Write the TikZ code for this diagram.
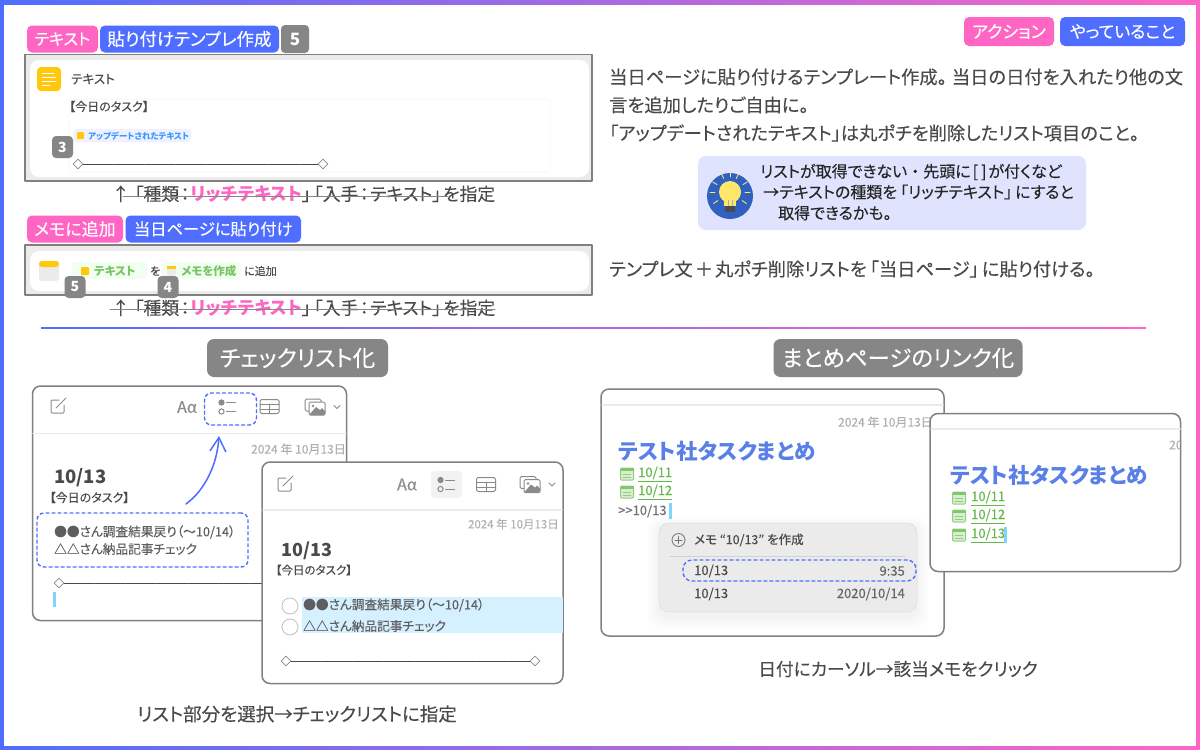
\documentclass[tikz,border=0pt]{standalone}
\usepackage{fontspec}
\setmainfont[RawFeature={+palt},FakeBold=0.2,BoldFeatures={FakeBold=0}]{Noto Sans CJK JP}
\usetikzlibrary{arrows.meta,shapes.geometric}
\definecolor{tagpink}{HTML}{FF66C4}
\definecolor{tagblue}{HTML}{4F6EFF}
\definecolor{badgegray}{HTML}{868686}
\definecolor{inkgray}{HTML}{4A4A4A}
\definecolor{itemgray}{HTML}{5E5E5E}
\definecolor{frameline}{HTML}{808080}
\definecolor{sepline}{HTML}{EBEBEB}
\definecolor{dategray}{HTML}{B0B0B0}
\definecolor{iconcol}{HTML}{8A8A8A}
\definecolor{titleblue}{HTML}{5A80E8}
\definecolor{linkgreen}{HTML}{63B84A}
\definecolor{selblue}{HTML}{D5F0FF}
\definecolor{cursorblue}{HTML}{7FD4FF}
\definecolor{appyellow}{HTML}{FFC80A}
\definecolor{tipfill}{HTML}{DFE3FD}
\definecolor{tipcircle}{HTML}{3060C0}
\definecolor{bulb}{HTML}{FFE76A}
\newcommand{\fsz}[1]{\fontsize{#1}{#1}\selectfont}
\newcommand{\listicon}[2]{%
  \draw[iconcol,line width=1pt,fill=iconcol] (#1-6.5,#2-4.5) circle (2.6);
  \draw[iconcol,line width=1pt] (#1-6.5,#2+4.5) circle (2.6);
  \draw[iconcol,line width=1pt] (#1-1.5,#2-4.5) -- (#1+7.5,#2-4.5) (#1-1.5,#2+4.5) -- (#1+7.5,#2+4.5);}
\newcommand{\tableicon}[2]{%
  \draw[iconcol,line width=1pt,rounded corners=1.5] (#1-9.5,#2-7) rectangle (#1+9.5,#2+7);
  \draw[iconcol,line width=1pt] (#1-9.5,#2-2.5) -- (#1+9.5,#2-2.5) (#1-9.5,#2+2.5) -- (#1+9.5,#2+2.5) (#1,#2-2.5) -- (#1,#2+7);}
\newcommand{\photoicon}[2]{%
  \draw[iconcol,line width=1pt,rounded corners=1.5] (#1-10,#2-8) rectangle (#1+6,#2+4);
  \draw[iconcol,line width=1pt,fill=white,rounded corners=1.5] (#1-6,#2-5) rectangle (#1+10,#2+8);
  \fill[iconcol] (#1-6,#2+8) -- (#1+1,#2) -- (#1+5,#2+3) -- (#1+7,#2+1) -- (#1+10,#2+4) -- (#1+10,#2+8) -- cycle;
  \fill[iconcol] (#1-2,#2-1) circle (1.4);
  \draw[iconcol,line width=1pt] (#1+19,#2-1.5) -- (#1+22,#2+1.5) -- (#1+25,#2-1.5);}
\newcommand{\composeicon}[2]{%
  \draw[iconcol,line width=1pt,rounded corners=1] (#1+1,#2-6) -- (#1-7,#2-6) -- (#1-7,#2+7) -- (#1+6,#2+7) -- (#1+6,#2-1);
  \draw[iconcol,line width=1pt] (#1-2,#2+2) -- (#1+8,#2-8);}
\newcommand{\noteicon}[2]{%
  \draw[linkgreen!70,fill=linkgreen!25,line width=1pt,rounded corners=1] (#1-6.5,#2-6) rectangle (#1+6.5,#2+6);
  \fill[linkgreen!80] (#1-6.5,#2-6) rectangle (#1+6.5,#2-3);
  \draw[linkgreen!70,line width=.6pt] (#1-4,#2) -- (#1+4,#2) (#1-4,#2+3) -- (#1+4,#2+3);}
\newcommand{\specline}{↑\kern5pt「種類\kern1.5pt：\kern1.5pt\textcolor{tagpink}{\bfseries リッチテキスト}」\kern3pt「入手\kern1.5pt：\kern1.5ptテキスト」\kern2ptを指定}
\tikzset{
  tagbase/.style={text=white,rounded corners=5pt,inner sep=0pt,font=\fsz{17},minimum height=27pt},
  tagp/.style={tagbase,fill=tagpink},
  tagb/.style={tagbase,fill=tagblue},
  badge/.style={fill=badgegray,text=white,rounded corners=4pt,inner sep=0pt,font=\fsz{14}\bfseries,minimum width=21pt,minimum height=22pt},
  headbox/.style={fill=badgegray,text=white,rounded corners=7pt,inner sep=0pt,font=\fsz{22.5},minimum height=38pt},
  txt/.style={anchor=west,inner sep=0pt,text=inkgray,font=\fsz{#1}},
  txt/.default=12,
  rtxt/.style={anchor=east,inner sep=0pt,text=#1,font=\fsz{12}},
  captxt/.style={inner sep=0pt,text=inkgray,font=\fsz{#1}},
  diam/.style={diamond,draw=iconcol,fill=white,line width=.7pt,inner sep=0pt,minimum size=10pt},
  frame/.style={draw=frameline,fill=white,line width=1.5pt,rounded corners=8pt},
  dashbox/.style={draw=tagblue,line width=1.4pt,dashed,rounded corners=7pt,inner sep=0pt},
  chip/.style={rounded corners=3pt,inner sep=0pt},
  rule/.style={line width=.9pt,inkgray,dash pattern=on 30pt off 1pt},
}
\begin{document}
\begin{tikzpicture}[x=1pt,y=-1pt,line cap=round,line join=round]
\useasboundingbox (0,0) rectangle (1200,750);
\fill[white] (0,0) rectangle (1200,750);
% page border
\shade[left color=tagblue,right color=tagpink] (0,0) rectangle (1200,4);
\shade[left color=tagblue,right color=tagpink] (0,746) rectangle (1200,750);
\fill[tagblue] (0,0) rectangle (4,750);
\fill[tagpink] (1196,0) rectangle (1200,750);

% top left tags
\node[tagp,minimum width=71pt,font=\fsz{16}] (tagtext) at (62.5,39) {テキスト};
\node[tagb,minimum width=179pt,font=\fsz{17.5}] (tagtempl) at (189.5,39) {貼り付けテンプレ作成};
\node[badge,minimum width=28pt,minimum height=28pt,font=\fsz{17}\bfseries] (badgefive) at (295,39) {5};

% first action
\draw[frameline,fill=sepline,line width=1.5pt] (25,54.5) rectangle (592,181);
\fill[white,rounded corners=9pt] (30,60) rectangle (589,177);
\fill[appyellow,rounded corners=4pt] (37,67) rectangle (61,91);
\foreach \yy/\xx in {73/54,77/56,81/56,85/50} \draw[white,line width=1pt] (42,\yy) -- (\xx,\yy);
\node[txt=12.5] (acttitle) at (71,79) {テキスト};
\draw[sepline!60,rounded corners=3pt,line width=.5pt] (69,99) rectangle (550,172);
\node[txt=12] (acttoday) at (69,106.5) {【今日のタスク】};
\fill[blue!6,chip] (73.5,129) rectangle (191,142);
\fill[appyellow,rounded corners=1pt] (77,132) rectangle (84,139);
\node[txt=8.5,text=tagblue!70!cyan] (actupd) at (88,136) {\bfseries アップデートされたテキスト};
\node[badge] (badgethree) at (62.5,147) {3};
\node[diam] (tmpl-a) at (78,164) {};
\node[diam] (tmpl-b) at (323,164) {};
\draw[rule] (tmpl-a) -- (tmpl-b);
\node[captxt=17.8] (capone) at (303.5,194) {\specline};
\draw[badgegray,line width=1pt] (123,196) -- (448,196);

% second action
\node[tagp,minimum width=96pt] (tagmemo) at (75,229) {メモに追加};
\node[tagb,minimum width=175.5pt,font=\fsz{16.3}] (tagpaste) at (213.25,229) {当日ページに貼り付け};
\draw[frameline,fill=sepline,line width=1.5pt] (25,245) rectangle (592,295);
\fill[white,rounded corners=9pt] (30,251) rectangle (589,291);
\fill[black!8,rounded corners=3pt] (39,261) rectangle (59,281);
\fill[appyellow,rounded corners=3pt] (39,261) rectangle (59,267);
\fill[green!6,chip] (72,262) rectangle (147,279);
\fill[appyellow,rounded corners=1pt] (81,267) rectangle (89,275);
\node[txt=11.5,text=linkgreen!85] (chiptext) at (94,271) {\bfseries テキスト};
\node[txt=11] (chipwo) at (150,271) {を};
\fill[green!6,chip] (161.5,262) rectangle (241,279);
\fill[black!7] (167,266) rectangle (176,276);
\fill[appyellow] (167,266) rectangle (176,268.5);
\node[txt=11.5,text=linkgreen!85] (chipmemo) at (181,271) {\bfseries メモを作成};
\node[txt=11] (chipadd) at (244,271) {に追加};
\node[badge] (badgefivetwo) at (75,287) {5};
\node[badge] (badgefour) at (168,287) {4};
\node[captxt=17.8] (captwo) at (303.5,308) {\specline};
\draw[badgegray,line width=1pt] (110,309) -- (495,309);

% top right
\node[tagp,minimum width=90pt,minimum height=29pt] (tagaction) at (1009,31.5) {アクション};
\node[tagb,minimum width=125pt,minimum height=29pt] (tagdoing) at (1122.5,31.5) {やっていること};
\node[txt=18.3] (descone) at (609,77) {当日ページに貼り付けるテンプレート作成。\kern5pt当日の日付を入れたり他の文};
\node[txt=18.3] (desctwo) at (609,105) {言を追加したりご自由に。};
\node[txt=18.3] (descthree) at (609,133) {「アップデートされたテキスト」は丸ポチを削除したリスト項目のこと。};
\fill[tipfill,rounded corners=8pt] (698,156) rectangle (1086,230);
\fill[tipcircle] (730,196) circle (23);
\fill[bulb] (730,192) circle (11);
\fill[bulb] (724,198) rectangle (736,206);
\draw[tipcircle!50,line width=.7pt] (728,200) -- (728,206) (732,200) -- (732,206);
\fill[black!70,rounded corners=1pt] (725,206) rectangle (735,212);
\foreach \ang in {-150,-115,-90,-65,-30,0,180,35,145} \draw[bulb,line width=.9pt] (730,192) ++(\ang:15) -- ++(\ang:5);
\node[txt=16,text=black!85] (tipone) at (760,172) {リストが取得できない\kern4pt・\kern4pt先頭に\kern2pt[\kern3pt]\kern2ptが付くなど};
\node[txt=16,text=black!85] (tiptwo) at (763,192) {→テキストの種類を\kern3pt「リッチテキスト」\kern3ptにすると};
\node[txt=16,text=black!85] (tipthree) at (778,213) {取得できるかも。};
\node[txt=18.3] (descfour) at (609,269) {テンプレ文\kern2pt＋\kern2pt丸ポチ削除リストを\kern3pt「当日ページ」\kern3ptに貼り付ける。};

% divider
\shade[left color=tagblue,right color=tagpink] (41,327.3) rectangle (1146,328.7);

% checklist section
\node[headbox,minimum width=181pt] (headcheck) at (297.5,358) {チェックリスト化};
\draw[frame] (32.5,386) rectangle (346.5,620.5);
\draw[sepline,line width=1.5pt] (33,433.5) -- (346,433.5);
\composeicon{58}{406}
\node[inner sep=0pt,text=iconcol,font=\fsz{16}] (oneaa) at (187,407) {Aα};
\listicon{228}{407}
\tableicon{269.5}{406.5}
\photoicon{315}{407}
\node[rtxt=dategray] (onedate) at (346,449) {2024 年 10月13日};
\node[txt=18.5] (onehead) at (54,478) {\bfseries 10/13};
\node[txt=12] (onetoday) at (49.5,497.5) {【今日のタスク】};
\node[dashbox,minimum width=52pt,minimum height=32pt] (pickicon) at (230.5,409) {};
\node[dashbox,minimum width=211pt,minimum height=54pt] (picklist) at (142.5,540) {};
\node[txt=12.7,text=itemgray] (oneitema) at (54,532) {●●さん調査結果戻り（～10/14）};
\node[txt=12.7,text=itemgray] (oneitemb) at (54,549) {△△さん納品記事チェック};
\node[diam] (onediam) at (59,583) {};
\coordinate (onerule) at (262,583);
\draw[rule] (onediam) -- (onerule);
\fill[cursorblue] (52.5,592) rectangle (55.5,607);
\coordinate (arrowstart) at (186,504);
\draw[-{Straight Barb[length=14pt,width=16pt]},tagblue,line width=1.5pt] (arrowstart) .. controls (205,490) and (217,465) .. (219,436);

\draw[frame] (262,462) rectangle (563,683.5);
\draw[sepline,line width=1.5pt] (263,510) -- (562,510);
\composeicon{285}{484}
\node[inner sep=0pt,text=iconcol,font=\fsz{16}] (twoaa) at (407,484.5) {Aα};
\fill[black!5,rounded corners=4pt] (431,471) rectangle (462,498);
\listicon{447}{484.5}
\tableicon{486}{484.5}
\photoicon{530}{484.5}
\node[rtxt=dategray,font=\fsz{11.5}] (twodate) at (559,524) {2024 年 10月13日};
\node[txt=18] (twohead) at (281,551) {\bfseries 10/13};
\node[txt=11.5] (twotoday) at (275.5,570) {【今日のタスク】};
\fill[selblue] (302,597) rectangle (562.5,633);
\draw[black!25,line width=.8pt] (290,606) circle (8) (290,627) circle (8);
\node[txt=12.7,text=itemgray] (twoitema) at (303,605) {●●さん調査結果戻り（～10/14）};
\node[txt=12.7,text=itemgray] (twoitemb) at (303,626) {△△さん納品記事チェック};
\node[diam] (twodiam-a) at (286,661) {};
\node[diam] (twodiam-b) at (535,661) {};
\draw[rule] (twodiam-a) -- (twodiam-b);
\node[captxt=18.5] (capcheck) at (297,714) {リスト部分を選択→チェックリストに指定};

% link section
\node[headbox,minimum width=249pt] (headlink) at (898,358) {まとめページのリンク化};
\draw[frame] (601,389) rectangle (944,636);
\draw[sepline,line width=1.5pt] (602,405) -- (943,405);
\node[rtxt=dategray] (threedate) at (933,422) {2024 年 10月13日};
\node[txt=21.5,text=titleblue] (threetitle) at (618,451) {\bfseries テスト社タスクまとめ};
\noteicon{627}{474}
\node[txt=13,text=linkgreen] (linka) at (638,474) {\underline{10/11}};
\noteicon{627}{492}
\node[txt=13,text=linkgreen] (linkb) at (638,492) {\underline{10/12}};
\node[txt=13,text=black!55] (linkc) at (618,511) {>{}>10/13};
\fill[cursorblue] (669,503) rectangle (671.5,519);

\draw[frame] (930,413.5) rectangle (1180.5,571.5);
\draw[sepline,line width=1.5pt] (931,429) -- (1180,429);
\begin{scope}
\clip (930,420) rectangle (1180,470);
\node[txt=12,text=dategray] (fourdate) at (1169,445) {2024};
\end{scope}
\node[txt=21.5,text=titleblue] (fourtitle) at (950,475) {\bfseries テスト社タスクまとめ};
\noteicon{959}{498}
\node[txt=13,text=linkgreen] (linkd) at (971,498) {\underline{10/11}};
\noteicon{959}{516}
\node[txt=13,text=linkgreen] (linke) at (971,516) {\underline{10/12}};
\noteicon{959}{535}
\node[txt=13,text=linkgreen] (linkf) at (971,535) {\underline{10/13}};
\fill[cursorblue] (1004,527) rectangle (1006.5,543);

% soft shadow of the popup
\foreach \gr in {1,2,...,12}
  \fill[black,opacity=.005,rounded corners=12pt] (659-\gr,523-\gr+5) rectangle (917+\gr,612+\gr+5);
\draw[black!12,fill=black!8,rounded corners=10pt,line width=.7pt] (659,523) rectangle (917,612);
\draw[black!55,line width=.8pt] (678.5,540) circle (6.5);
\draw[black!55,line width=.8pt] (675,540) -- (682,540) (678.5,536.5) -- (678.5,543.5);
\node[txt=12.5] (popnew) at (694,540) {メモ “10/13” を作成};
\draw[black!18,line width=.7pt] (670,556) -- (905,556);
\node[dashbox,minimum width=233pt,minimum height=21pt,rounded corners=9pt] (pickrow) at (799.5,570.5) {};
\node[txt=13] (rowa) at (694,571) {10/13};
\node[anchor=east,inner sep=0pt,text=black!60,font=\fsz{13}] (rowatime) at (905,571) {9:35};
\node[txt=13] (rowb) at (694,594) {10/13};
\node[anchor=east,inner sep=0pt,text=black!60,font=\fsz{13}] (rowbtime) at (905,594) {2020/10/14};
\node[captxt=17.7] (caplink) at (898,669) {日付にカーソル→該当メモをクリック};
\end{tikzpicture}
\end{document}
